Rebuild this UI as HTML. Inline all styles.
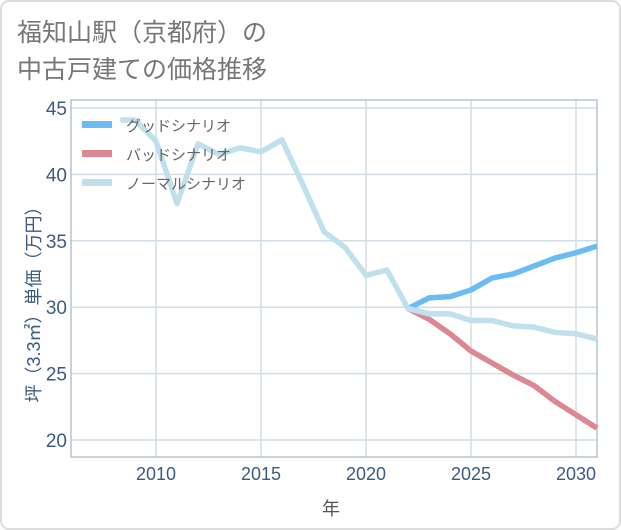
<!DOCTYPE html>
<html><head><meta charset="utf-8"><style>
body{margin:0;background:#fff;}
svg{display:block;font-family:"Liberation Sans","Noto Sans CJK JP",sans-serif;}
</style></head><body>
<svg width="621" height="530">
<rect x="1" y="1" width="619" height="528" rx="8" fill="#fff" stroke="#ddd" stroke-width="2"/>
<text x="17" y="41" font-size="25" fill="#777">福知山駅（京都府）の</text>
<text x="17" y="78" font-size="25" fill="#777">中古戸建ての価格推移</text>
<g id="grid"></g>
<g id="series"></g>
<g id="legend"></g>
<text x="331" y="515" font-size="18" fill="#555" text-anchor="middle">年</text>
<text transform="translate(40,300) rotate(-90)" font-size="18" fill="#3d5a80" text-anchor="middle">坪（3.3㎡）単価（万円）</text>
</svg>
<script>
const histYears=[2008.3,2009,2010,2011,2012,2013,2014,2015,2016,2017,2018,2019,2020,2021,2022];
const histValues=[44.1,44.1,42.5,37.8,42.3,41.5,42.0,41.7,42.6,39.2,35.7,34.5,32.4,32.8,29.9];
const futureYears=[2022,2023,2024,2025,2026,2027,2028,2029,2030,2031];
const goodValues=[29.9,30.7,30.8,31.3,32.2,32.5,33.1,33.7,34.1,34.6];
const badValues=[29.9,29.1,28.0,26.7,25.8,24.9,24.1,22.9,21.9,20.9];
const normalValues=[29.9,29.5,29.5,29.0,29.0,28.6,28.5,28.1,28.0,27.6];
const xTicks=[2010,2015,2020,2025,2030];
const yTicks=[20,25,30,35,40,45];
const seriesNames=["グッドシナリオ","バッドシナリオ","ノーマルシナリオ"];
const NS="http://www.w3.org/2000/svg";
const X0=71,X1=597,Y0=100,Y1=457;
const xs=y=>72+(y-2006)*21;
const ys=v=>440-(v-20)*13.28;
const grid=document.getElementById('grid'),ser=document.getElementById('series'),leg=document.getElementById('legend');
function mk(tag,attrs,parent){const e=document.createElementNS(NS,tag);for(const k in attrs)e.setAttribute(k,attrs[k]);parent.appendChild(e);return e;}
xTicks.forEach(t=>{
 const l=mk('line',{x1:xs(t),x2:xs(t),y1:Y0,y2:Y1,stroke:'#d3dde6','stroke-width':1.5},grid);
 
 
 const tx=mk('text',{x:xs(t),y:480,'font-size':18,fill:'#3d5a80','text-anchor':'middle'},grid);
 tx.textContent=t;
 
 
});
yTicks.forEach(t=>{
 const l=mk('line',{x1:X0,x2:X1,y1:ys(t),y2:ys(t),stroke:'#d3dde6','stroke-width':1.5},grid);
 
 
 const tx=mk('text',{x:67,y:ys(t)+7,'font-size':19,fill:'#3d5a80','text-anchor':'end'},grid);
 tx.textContent=t;
 
 
});
const box=mk('rect',{x:X0,y:Y0,width:X1-X0,height:Y1-Y0,fill:'none',stroke:'#b7c4cf','stroke-width':1.5},grid);


function line(xa,va,color,name){
 const p=mk('polyline',{points:xa.map((x,i)=>xs(x)+','+ys(va[i])).join(' '),fill:'none',stroke:color,'stroke-width':5.5,'stroke-linejoin':'round'},ser);
 
 
}
line(futureYears,goodValues,'#6bbcf2','good-scenario-line');
line(futureYears,badValues,'#dd8790','bad-scenario-line');
line(histYears.concat(futureYears.slice(1)),histValues.concat(normalValues.slice(1)),'#bfe0ec','normal-scenario-line');
const colors=['#6bbcf2','#dd8790','#bfe0ec'];
seriesNames.forEach((n,i)=>{
 const y=125+i*29;
 const r=mk('rect',{x:82,y:y-4,width:30,height:7,fill:colors[i]},leg);
 
 
 const t=mk('text',{x:126,y:y+6,'font-size':15,fill:'#666'},leg);
 t.textContent=n;
 
 
});
</script>
</body></html>
